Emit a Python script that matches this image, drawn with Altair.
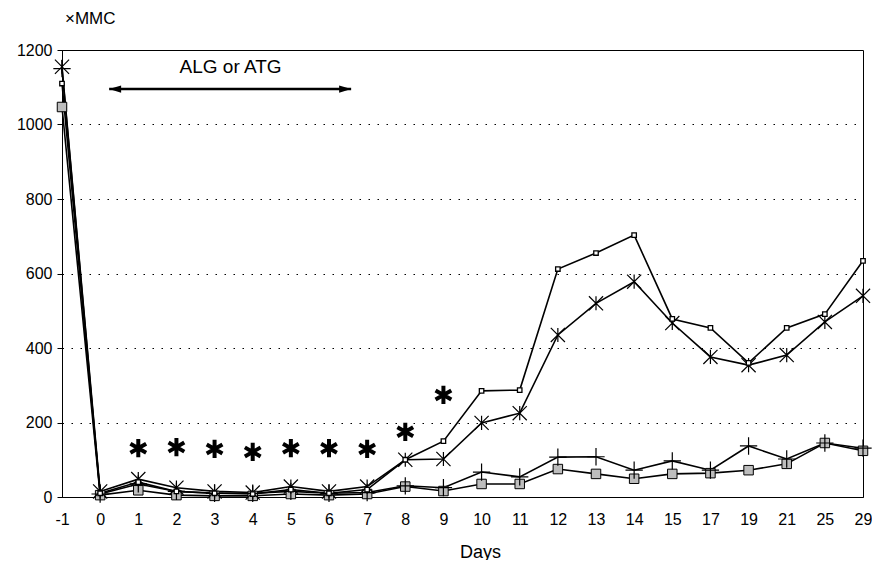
import altair as alt
import pandas as pd

# ---- data ----
days = ["-1", "0", "1", "2", "3", "4", "5", "6", "7", "8", "9", "10", "11",
        "12", "13", "14", "15", "17", "19", "21", "25", "29"]
open_square = [1110, 10, 40, 15, 10, 8, 20, 10, 20, 100, 150, 285, 287,
               612, 655, 703, 478, 454, 360, 454, 491, 634]
asterisk = [1155, 15, 48, 25, 15, 12, 28, 15, 28, 100, 102, 199, 225,
            435, 520, 578, 467, 376, 354, 381, 470, 540]
plus = [1150, 8, 35, 15, 10, 10, 15, 10, 12, 30, 25, 67, 54,
        107, 108, 72, 97, 72, 137, 102, 145, 131]
gray_square = [1047, 5, 18, 5, 3, 3, 8, 5, 8, 28, 16, 35, 35,
               75, 62, 49, 62, 64, 72, 89, 145, 124]
sig_days = ["1", "2", "3", "4", "5", "6", "7", "8", "9"]
sig_levels = [131, 134, 129, 121, 131, 131, 129, 175, 274]
treatment_label = "ALG or ATG"
treatment_start = "0"
treatment_end = "7"
treatment_mid = "3"
treatment_level = 1095
label_level = 1154
unit_label = "×MMC"
unit_day = "-1"
unit_level = 1283
y_ticks = [0, 200, 400, 600, 800, 1000, 1200]

series = {
    "open": open_square,
    "asterisk": asterisk,
    "plus": plus,
    "gray": gray_square,
}
rows = []
for name, vals in series.items():
    for d, v in zip(days, vals):
        rows.append({"day": d, "value": v, "series": name})
df = pd.DataFrame(rows)
sig_df = pd.DataFrame({"day": sig_days, "value": sig_levels})
arrow_df = pd.DataFrame({"day": [treatment_start], "day2": [treatment_end],
                         "value": [treatment_level]})
arrow_l = pd.DataFrame({"day": [treatment_start], "value": [treatment_level]})
arrow_r = pd.DataFrame({"day": [treatment_end], "value": [treatment_level]})
label_df = pd.DataFrame({"day": [treatment_mid], "value": [label_level],
                         "text": [treatment_label]})
unit_df = pd.DataFrame({"day": [unit_day], "value": [unit_level],
                        "text": [unit_label]})

FONT = "Liberation Sans"
xscale = alt.Scale(type="point", domain=days, padding=0)
yscale = alt.Scale(domain=[0, 1200], nice=False, zero=True)

x_main = alt.X("day:O", scale=xscale, sort=days,
               axis=alt.Axis(title="Days", labelAngle=0, ticks=False,
                             labelPadding=14, grid=False,
                             titleX=418, titleY=60, titleAlign="center",
                             titleBaseline="alphabetic"))
y_main = alt.Y("value:Q", scale=yscale,
               axis=alt.Axis(title=None, values=y_ticks, format="d", grid=True,
                             gridDash=[1.5, 7.5], gridColor="black",
                             gridWidth=1, tickSize=5, labelPadding=5))
x_e = alt.X("day:O", scale=xscale, sort=days)
y_e = alt.Y("value:Q", scale=yscale)

lines = alt.Chart(df).mark_line(color="black", strokeWidth=1.6).encode(
    x=x_main, y=y_main, detail="series:N")

STAR = "M-1,-1L1,1M-1,1L1,-1M0,-1L0,1"
PLUS = "M-1,0L1,0M0,-1L0,1"
SIX = "M0,-1L0,1M-0.866,-0.5L0.866,0.5M-0.866,0.5L0.866,-0.5"


def pts(name, **mk):
    return alt.Chart(df).transform_filter(alt.datum.series == name).mark_point(
        **mk).encode(x=x_e, y=y_e)


p_gray = pts("gray", shape="square", size=90, filled=True, fill="#bdbdbd",
             stroke="black", strokeWidth=1, opacity=1)
p_plus = pts("plus", shape=PLUS, size=300, filled=False, stroke="black",
             strokeWidth=1.2, opacity=1)
p_star = pts("asterisk", shape=STAR, size=200, filled=False, stroke="black",
             strokeWidth=1.2, opacity=1)
p_open = pts("open", shape="square", size=20, filled=True, fill="white",
             stroke="black", strokeWidth=1.3, opacity=1)

sig = alt.Chart(sig_df).mark_point(shape=SIX, size=330, filled=False,
                                    stroke="black", strokeWidth=4,
                                    opacity=1).encode(x=x_e, y=y_e)

arrow = alt.Chart(arrow_df).mark_rule(color="black", strokeWidth=2.5,
                                      xOffset=9, x2Offset=-16).encode(
    x=x_e, x2="day2:O", y=y_e)
head_l = alt.Chart(arrow_l).mark_point(shape="M-1,0L1,-0.6L1,0.6Z", size=144,
                                       filled=True, fill="black", opacity=1,
                                       xOffset=15).encode(x=x_e, y=y_e)
head_r = alt.Chart(arrow_r).mark_point(shape="M1,0L-1,-0.6L-1,0.6Z", size=144,
                                       filled=True, fill="black", opacity=1,
                                       xOffset=-22).encode(x=x_e, y=y_e)
label = alt.Chart(label_df).mark_text(font=FONT, fontSize=19, color="black",
                                      baseline="middle", align="center",
                                      dx=16).encode(x=x_e, y=y_e, text="text:N")
unit = alt.Chart(unit_df).mark_text(font=FONT, fontSize=17, color="black",
                                    baseline="middle", align="left",
                                    dx=3).encode(x=x_e, y=y_e, text="text:N")

chart = alt.layer(lines, p_gray, p_plus, p_star, p_open, sig, arrow, head_l,
                  head_r, label, unit).properties(
    width=801, height=447,
    autosize=alt.AutoSizeParams(type="none"),
    padding={"left": 54, "top": 42, "right": 9, "bottom": 63},
).configure_view(stroke="black", strokeWidth=1).configure_axis(
    domainColor="black", tickColor="black", labelColor="black",
    labelFont=FONT, labelFontSize=16, titleFont=FONT, titleFontSize=18,
    titleFontWeight="normal", titleColor="black", domainWidth=1
)

chart.save("out.html", embed_options={"renderer": "svg", "actions": False})
